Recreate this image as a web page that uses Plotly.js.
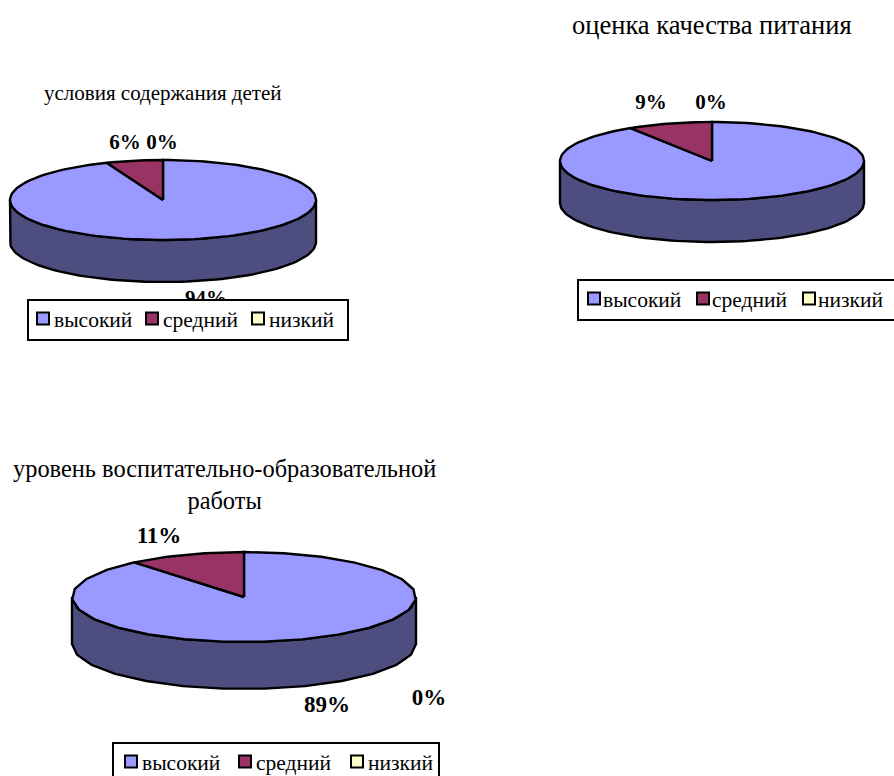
<!DOCTYPE html>
<html><head><meta charset="utf-8">
<script src="https://cdn.plot.ly/plotly-3.0.1.min.js"></script>
<style>html,body{margin:0;padding:0;background:#fff;overflow:hidden}</style>
</head><body><div id="c" style="width:894px;height:776px"></div>
<script>
const categories = ['высокий','средний','низкий'];
const titles = ['условия содержания детей','оценка качества питания','уровень воспитательно-образовательной<br>работы'];
const values1 = [94,6,0];
const values2 = [91,9,0];
const values3 = [89,11,0];
const sliceColors = ['#9999FF','#993366','#FFFFCC'];
const wallColors = ['#4D4D80','#4D1A33','#808066'];

const W=894,H=776,FONT='"Liberation Serif","Times New Roman",serif';
const charts=[
 {vals:values1,cx:163,cy:200,rx:153,ry:40,d:42,seg:160,padX:8,
  title:{x:163,y:93,size:21},labelSize:21,
  labels:[[206,300],[125,144],[162,144]],
  legend:{x:27,y:299,ew:61,swatch:14,text:27,shift:[0,3,3]}},
 {vals:values2,cx:712,cy:161,rx:152,ry:39,d:42,seg:160,padX:8,
  title:{x:712,y:25,size:26.5},labelSize:21,
  labels:[[775,263],[651,104],[711,104]],
  legend:{x:577,y:279,ew:60,swatch:15,text:26,shift:[0,4,5]}},
 {vals:values3,cx:244,cy:597,rx:172,ry:45,d:47,seg:26,padX:40,
  title:{x:224,y:484,size:24.4},labelSize:23,
  labels:[[327,706],[159,537],[429,699]],
  legend:{x:112,y:742,ew:63,swatch:17,text:30,shift:[0,6,10]}}
];
const traces=[],annotations=[],layout={
 width:W,height:H,margin:{l:0,r:0,t:0,b:0,autoexpand:false},paper_bgcolor:'#fff',plot_bgcolor:'rgba(0,0,0,0)',
 font:{family:FONT,color:'#000'},hovermode:false,dragmode:false,annotations};
const BLACK={color:'#000',width:2.4};

charts.forEach((c,i)=>{
  const n=i?String(i+1):'';
  const xa='x'+n,ya='y'+n;
  const padX=c.padX,padY=20;
  const px0=c.cx-c.rx-padX,px1=c.cx+c.rx+padX,py0=c.cy-c.ry-padY,py1=c.cy+c.ry+c.d+padY;
  const toX=p=>(p-c.cx)/c.rx,toY=p=>(c.cy-p)/c.ry;
  layout['xaxis'+n]={domain:[px0/W,px1/W],range:[toX(px0),toX(px1)],visible:false,fixedrange:true};
  layout['yaxis'+n]={domain:[1-py1/H,1-py0/H],range:[toY(py1),toY(py0)],visible:false,fixedrange:true};
  const depth=c.d/c.ry;
  const total=c.vals.reduce((a,b)=>a+b,0);
  const pt=f=>[Math.sin(2*Math.PI*f),Math.cos(2*Math.PI*f)];
  const arc=(a,b)=>{const o=[];const k=Math.max(1,Math.ceil((b-a)*c.seg));
    for(let j=0;j<=k;j++){o.push(pt(a+(b-a)*j/k));}return o;};
  let cum=0;const spans=c.vals.map(v=>{const s=[cum,cum+v/total];cum+=v/total;return s;});
  spans.forEach((s,j)=>{
    const a=Math.max(s[0],.25),b=Math.min(s[1],.75);
    if(b<=a)return;
    const top=arc(a,b),bot=top.slice().reverse().map(p=>[p[0],p[1]-depth]);
    const all=top.concat(bot);all.push(top[0]);
    traces.push({type:'scatter',mode:'lines',xaxis:xa,yaxis:ya,x:all.map(p=>p[0]),y:all.map(p=>p[1]),
      fill:'toself',fillcolor:wallColors[j],line:BLACK,showlegend:false,hoverinfo:'skip',cliponaxis:false});
  });
  spans.forEach((s,j)=>{
    if(s[1]<=s[0])return;
    const ar=arc(s[0],s[1]);const all=[[0,0]].concat(ar,[[0,0]]);
    traces.push({type:'scatter',mode:'lines',xaxis:xa,yaxis:ya,x:all.map(p=>p[0]),y:all.map(p=>p[1]),
      fill:'toself',fillcolor:sliceColors[j],line:BLACK,showlegend:false,hoverinfo:'skip',cliponaxis:false});
  });
  traces.push({type:'scatter',mode:'text',xaxis:xa,yaxis:ya,
    x:c.labels.map(l=>toX(l[0])),y:c.labels.map(l=>toY(l[1])),
    text:c.vals.map(v=>v+'%'),textposition:'middle center',cliponaxis:false,
    textfont:{family:FONT,size:c.labelSize,color:'#000',weight:'bold'},showlegend:false,hoverinfo:'skip'});
  const lname='legend'+n;
  categories.forEach((cat,j)=>{
    traces.push({type:'scatter',mode:'markers',xaxis:xa,yaxis:ya,x:[null],y:[null],name:cat,legend:lname,
      marker:{symbol:'square',size:12,color:sliceColors[j],line:{color:'#000',width:2}},
      showlegend:true,hoverinfo:'skip'});
  });
  layout[lname]={orientation:'h',xref:'paper',yref:'paper',x:c.legend.x/W,y:1-c.legend.y/H,
    xanchor:'left',yanchor:'top',bgcolor:'#fff',bordercolor:'#000',borderwidth:2,
    font:{family:FONT,size:21.5,color:'#000'},itemsizing:'trace',itemwidth:30,
    entrywidth:c.legend.ew,entrywidthmode:'pixels',traceorder:'normal',itemclick:false,itemdoubleclick:false};
  annotations.push({xref:'paper',yref:'paper',x:c.title.x/W,y:1-c.title.y/H,xanchor:'center',yanchor:'middle',
    showarrow:false,text:titles[i],align:'center',font:{family:FONT,size:c.title.size,color:'#000'}});
});
Plotly.newPlot('c',traces,layout,{displayModeBar:false,staticPlot:true}).then(gd=>{
  // Plotly's legend keeps a fixed wide gap around the swatch; close it up as in the reference.
  charts.forEach((c,i)=>{
    const name='legend'+(i?String(i+1):'');
    const g=gd.querySelector('.'+name);
    if(!g)return;
    const bg=g.querySelector('.bg');
    if(bg)bg.setAttribute('height',String(parseFloat(bg.getAttribute('height'))-3));
    g.querySelectorAll('.traces').forEach((t,j)=>{
      const m=/translate\(([-\d.]+)[, ]+([-\d.]+)\)/.exec(t.getAttribute('transform')||'');
      if(m)t.setAttribute('transform','translate('+(parseFloat(m[1])+c.legend.shift[j])+','+(parseFloat(m[2])-3)+')');
      const p=t.querySelector('.legendpoints');
      if(p)p.setAttribute('transform','translate('+(c.legend.swatch-20)+',0)');
      const tx=t.querySelector('text');
      if(tx)tx.setAttribute('transform','translate('+(c.legend.text-42)+',0)');
    });
  });
});
</script></body></html>
